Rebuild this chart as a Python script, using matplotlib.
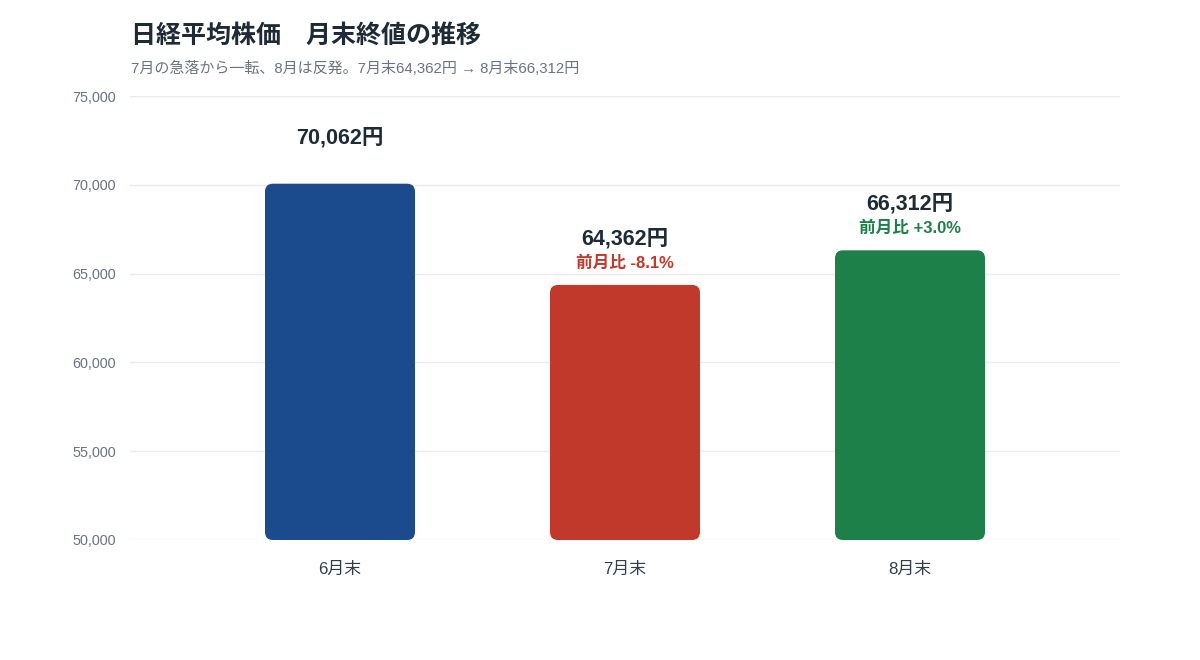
import matplotlib
matplotlib.use("Agg")
import matplotlib.pyplot as plt
from matplotlib.patches import FancyBboxPatch

plt.rcParams['font.family'] = ['Liberation Sans', 'Noto Sans CJK JP', 'DejaVu Sans']

categories = ["6月末", "7月末", "8月末"]
values = [70062, 64362, 66312]
colors = ["#1b4b8c", "#c0392b", "#1e8049"]
yticks = [50000, 55000, 60000, 65000, 70000, 75000]

title = "日経平均株価　月末終値の推移"
subtitle = "7月の急落から一転、8月は反発。7月末64,362円 → 8月末66,312円"

fig = plt.figure(figsize=(12, 6.6), dpi=100)
ax = fig.add_axes([130/1200, 1 - 540/660, 990/1200, 444/660])

ymin, ymax = 50000, 75000
ax.set_ylim(ymin, ymax)
ax.set_xlim(-210/285, 2 + 210/285)
xs = list(range(len(categories)))
width = 150/285

# pixel scales
ax_w_px = 990; ax_h_px = 444
x_per_px = (ax.get_xlim()[1] - ax.get_xlim()[0]) / ax_w_px
y_per_px = (ymax - ymin) / ax_h_px
radius_px = 8

for x, v, c in zip(xs, values, colors):
    p = FancyBboxPatch((x - width/2, ymin), width, v - ymin,
                       boxstyle=f"round,pad=0,rounding_size={radius_px * x_per_px}",
                       mutation_aspect=y_per_px / x_per_px,
                       facecolor=c, edgecolor='none', zorder=3)
    ax.add_patch(p)

for i, (x, v) in enumerate(zip(xs, values)):
    ax.text(x, v + 46 * y_per_px, f"{v:,}円", ha='center', va='center',
            fontsize=15.5, fontweight='bold', color='#1f2a37', zorder=4)
    if i > 0:
        pct = (v - values[i-1]) / values[i-1] * 100
        ax.text(x, v + 22 * y_per_px, f"前月比 {pct:+.1f}%", ha='center', va='center',
                fontsize=12, fontweight='bold', color=colors[i], zorder=4)

ax.set_yticks(yticks)
ax.set_yticklabels([f"{t:,}" for t in yticks], fontsize=10.4, color='#6b7280')
ax.set_xticks(xs)
ax.set_xticklabels(categories, fontsize=12.2, color='#333d4a')
ax.tick_params(axis='both', length=0)
ax.tick_params(axis='y', pad=10)
ax.tick_params(axis='x', pad=16)
ax.grid(axis='y', color='#e8eaed', linewidth=1, zorder=0)
ax.set_axisbelow(True)
for s in ax.spines.values():
    s.set_visible(False)

fig.text(131/1200, 1 - 36/660, title, fontsize=18, fontweight='bold',
         color='#1f2a37', va='center', ha='left')
fig.text(131/1200, 1 - 68/660, subtitle, fontsize=10.8, color='#6b7280',
         va='center', ha='left', family=['Liberation Sans', 'Noto Sans CJK JP', 'DejaVu Sans'])

fig.savefig("out.png", dpi=100, facecolor='white')
